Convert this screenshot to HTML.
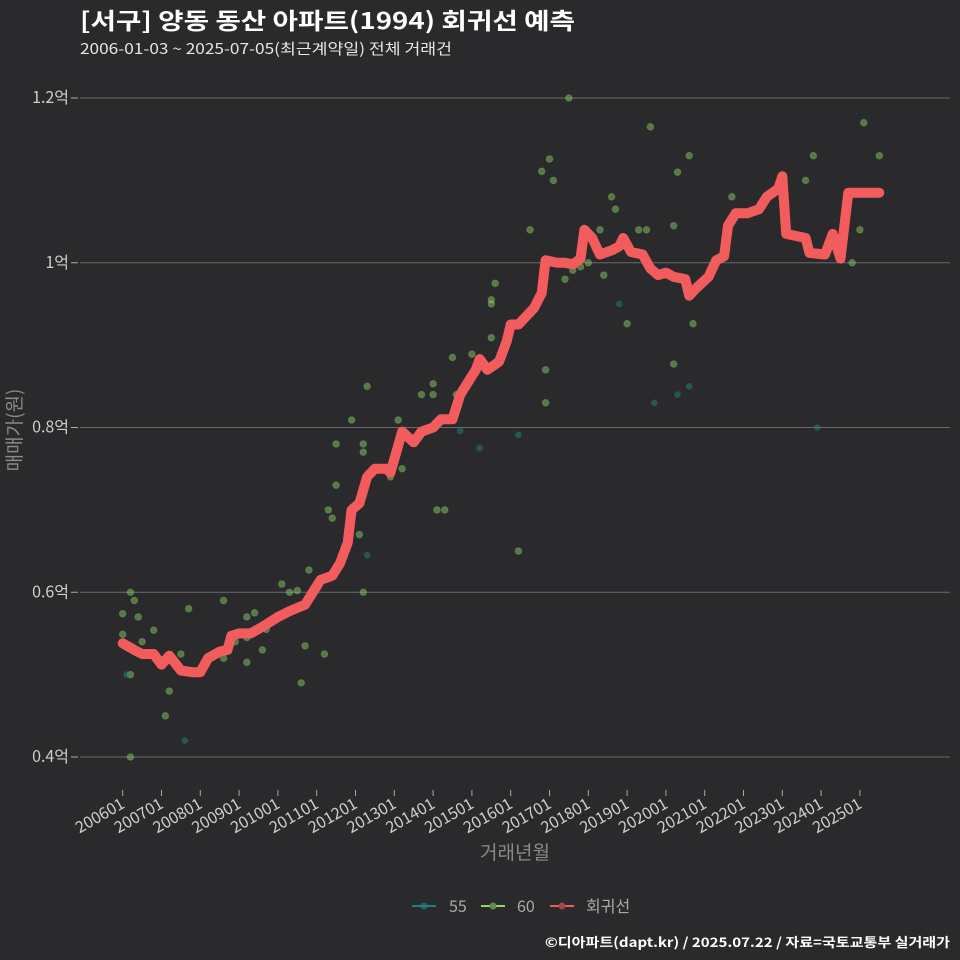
<!DOCTYPE html>
<html><head><meta charset="utf-8"><style>
html,body{margin:0;padding:0;background:#2a2a2c;}
svg{display:block;font-family:"Noto Sans CJK KR","Liberation Sans",sans-serif;}
</style></head><body>
<svg id="chart" width="960" height="960" viewBox="0 0 960 960">
<rect x="0" y="0" width="960" height="960" fill="#2a2a2c"/>
<text x="80" y="29" fill="#ffffff" font-size="23" font-weight="bold" textLength="495" lengthAdjust="spacingAndGlyphs">[서구] 양동 동산 아파트(1994) 회귀선 예측</text>
<text x="80" y="54" fill="#e6e6e6" font-size="15" textLength="372" lengthAdjust="spacingAndGlyphs">2006-01-03 ~ 2025-07-05(최근계약일) 전체 거래건</text>
<g id="grid"></g>
<g id="points"></g>
<g id="line"></g>
<g id="xaxis"></g>
<text transform="translate(21,430) rotate(-90)" text-anchor="middle" fill="#8a8a8a" font-size="19">매매가(원)</text>
<text x="515" y="859" text-anchor="middle" fill="#8a8a8a" font-size="19">거래년월</text>
<g>
 <g>
  <line x1="412" y1="906" x2="436" y2="906" stroke="#1f7f7a" stroke-width="2"/><circle cx="424" cy="906" r="3.5" fill="#1f7f7a" opacity="0.7"/>
  <text x="449" y="912" fill="#aaaaaa" font-size="16">55</text></g>
 <g>
  <line x1="481" y1="906" x2="505" y2="906" stroke="#8fd86a" stroke-width="2"/><circle cx="493" cy="906" r="3.5" fill="#5e8c4c"/>
  <text x="517" y="912" fill="#aaaaaa" font-size="16">60</text></g>
 <g>
  <line x1="550" y1="906" x2="574" y2="906" stroke="#f25c5c" stroke-width="2"/><circle cx="562" cy="906" r="3.5" fill="#a04848"/>
  <text x="586" y="912" fill="#aaaaaa" font-size="16">회귀선</text></g>
</g>
<text x="545" y="947" fill="#ffffff" font-size="13" font-weight="bold" textLength="405" lengthAdjust="spacingAndGlyphs">©디아파트(dapt.kr) / 2025.07.22 / 자료=국토교통부 실거래가</text>
</svg>
<script>
const yTicks=[0.4,0.6,0.8,1.0,1.2];
const yTickLabels=["0.4억","0.6억","0.8억","1억","1.2억"];
const xTickYears=[2006,2007,2008,2009,2010,2011,2012,2013,2014,2015,2016,2017,2018,2019,2020,2021,2022,2023,2024,2025];
const lineYears=[2006.0,2006.3,2006.5,2006.8,2007.0,2007.2,2007.5,2007.8,2008.0,2008.2,2008.5,2008.7,2008.8,2009.0,2009.3,2009.6,2010.0,2010.3,2010.7,2010.9,2011.1,2011.4,2011.6,2011.8,2011.9,2012.1,2012.3,2012.5,2012.8,2012.9,2013.1,2013.2,2013.5,2013.7,2014.0,2014.2,2014.5,2014.7,2014.9,2015.1,2015.2,2015.4,2015.7,2015.9,2016.0,2016.2,2016.4,2016.6,2016.8,2016.9,2017.2,2017.4,2017.6,2017.8,2017.9,2018.1,2018.3,2018.6,2018.8,2018.9,2019.1,2019.4,2019.6,2019.8,2020.0,2020.2,2020.5,2020.6,2020.8,2021.1,2021.3,2021.5,2021.6,2021.8,2022.1,2022.4,2022.6,2022.9,2023.0,2023.1,2023.6,2023.7,2024.1,2024.3,2024.5,2024.7,2025.5];
const lineValues=[0.538,0.530,0.525,0.525,0.512,0.523,0.505,0.503,0.503,0.520,0.528,0.530,0.547,0.550,0.550,0.558,0.570,0.577,0.585,0.600,0.615,0.620,0.635,0.660,0.700,0.708,0.740,0.750,0.750,0.745,0.778,0.795,0.782,0.795,0.800,0.810,0.810,0.840,0.855,0.870,0.883,0.870,0.880,0.905,0.925,0.925,0.935,0.945,0.963,1.003,1.000,1.000,0.998,1.005,1.040,1.030,1.010,1.015,1.020,1.030,1.013,1.010,0.993,0.985,0.988,0.983,0.980,0.960,0.970,0.983,1.003,1.008,1.045,1.060,1.060,1.065,1.080,1.090,1.105,1.035,1.030,1.012,1.010,1.035,1.005,1.085,1.085];
const p60Years=[2006.0,2006.0,2006.2,2006.2,2006.2,2006.3,2006.4,2006.5,2006.8,2007.1,2007.2,2007.5,2007.7,2008.6,2008.6,2008.9,2009.2,2009.2,2009.2,2009.4,2009.6,2009.7,2010.1,2010.3,2010.5,2010.6,2010.6,2010.7,2010.8,2010.8,2011.0,2011.2,2011.3,2011.4,2011.5,2011.5,2011.9,2012.1,2012.2,2012.2,2012.2,2012.3,2012.9,2013.1,2013.2,2013.7,2014.0,2014.0,2014.1,2014.3,2014.5,2014.6,2015.0,2015.5,2015.5,2015.5,2015.6,2016.2,2016.5,2016.8,2016.9,2016.9,2017.0,2017.1,2017.4,2017.5,2017.6,2017.8,2018.0,2018.3,2018.4,2018.6,2018.7,2019.0,2019.3,2019.5,2019.6,2020.2,2020.2,2020.3,2020.6,2020.7,2021.7,2023.6,2023.8,2024.8,2025.0,2025.1,2025.5];
const p60Values=[0.574,0.549,0.600,0.500,0.400,0.590,0.570,0.540,0.554,0.450,0.480,0.525,0.580,0.590,0.520,0.540,0.545,0.570,0.515,0.575,0.530,0.555,0.610,0.600,0.602,0.582,0.490,0.535,0.590,0.627,0.610,0.525,0.700,0.690,0.780,0.730,0.809,0.670,0.600,0.780,0.770,0.850,0.740,0.809,0.750,0.840,0.853,0.840,0.700,0.700,0.885,0.840,0.889,0.909,0.955,0.950,0.975,0.650,1.040,1.111,0.830,0.870,1.126,1.100,0.980,1.200,0.991,0.995,1.000,1.040,0.985,1.080,1.065,0.926,1.040,1.040,1.165,0.877,1.045,1.110,1.130,0.926,1.080,1.100,1.130,1.000,1.040,1.170,1.130];
const p55Years=[2006.1,2007.6,2012.3,2014.7,2015.2,2016.2,2018.8,2019.7,2020.3,2020.6,2023.9];
const p55Values=[0.500,0.420,0.645,0.796,0.775,0.791,0.950,0.830,0.840,0.850,0.800];

const NS="http://www.w3.org/2000/svg";
const X0=122.7, XS=38.8, Y0=98, YS=823.75;
function xScale(yr){return X0+(yr-2006)*XS;}
function yScale(v){return Y0+(1.2-v)*YS;}
function mk(tag,attrs,parent){const e=document.createElementNS(NS,tag);for(const k in attrs)e.setAttribute(k,attrs[k]);parent.appendChild(e);return e;}

const grid=document.getElementById('grid');
yTicks.forEach((v,i)=>{
 const y=yScale(v);
 const g=mk('line',{x1:80,x2:950,y1:y,y2:y,stroke:'#6a6a6a','stroke-width':1},grid);
 
 
 const t=mk('line',{x1:71,x2:78,y1:y,y2:y,stroke:'#aaaaaa','stroke-width':1},grid);
 
 
 const l=mk('text',{x:69,y:y+5,'text-anchor':'end',fill:'#cfcfcf','font-size':16},grid);
 
 
 l.textContent=yTickLabels[i];
});
const xa=document.getElementById('xaxis');
xTickYears.forEach(yr=>{
 const x=xScale(yr);
 const t=mk('line',{x1:x,x2:x,y1:790,y2:796,stroke:'#aaaaaa','stroke-width':1},xa);
 
 
 const l=mk('text',{x:0,y:0,'text-anchor':'end',fill:'#cfcfcf','font-size':16,transform:`translate(${x+3},${807}) rotate(-30)`},xa);
 
 
 l.textContent=yr+'01';
});
const pts=document.getElementById('points');
p60Years.forEach((yr,i)=>{
 const c=mk('circle',{cx:xScale(yr),cy:yScale(p60Values[i]),r:3.3,fill:'#8fd86a','fill-opacity':0.45,stroke:'#8fd86a','stroke-opacity':0.3},pts);
 
 
});
p55Years.forEach((yr,i)=>{
 const c=mk('circle',{cx:xScale(yr),cy:yScale(p55Values[i]),r:3.3,fill:'#1f8f8a','fill-opacity':0.45},pts);
 
 
});
const lg=document.getElementById('line');
const d=lineYears.map((yr,i)=>(i?'L':'M')+xScale(yr).toFixed(1)+','+yScale(lineValues[i]).toFixed(1)).join(' ');
const p=mk('path',{d:d,fill:'none',stroke:'#f25c5c','stroke-width':10,'stroke-linejoin':'round','stroke-linecap':'round'},lg);


</script>
</body></html>
